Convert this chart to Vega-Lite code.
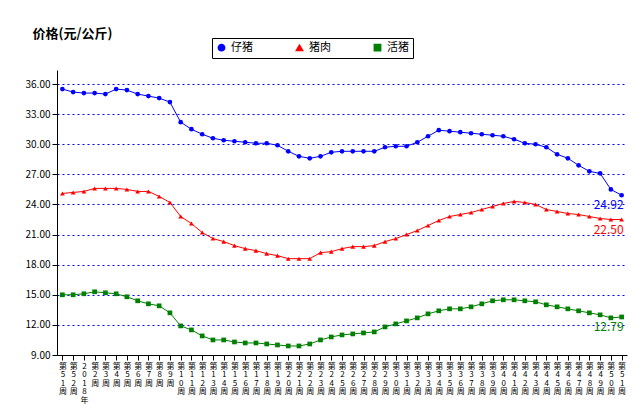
{
  "$schema": "https://vega.github.io/schema/vega-lite/v6.json",
  "autosize": {"type": "none"},
  "width": 570,
  "height": 285,
  "padding": {"left": 57, "top": 70, "right": 10, "bottom": 49},
  "background": "white",
  "title": {"text": "陕西省近一年生猪价格周度走势图", "fontSize": 15, "font": "Noto Sans CJK SC", "fontWeight": "bold", "offset": 38, "anchor": "middle", "dx": 20, "color": "black"},
  "config": {"font": "Noto Sans CJK SC", "view": {"stroke": null}},
  "datasets": {
    "prices": [
      {"w":"第51周","仔猪":35.5,"猪肉":25.1,"活猪":15.0},
      {"w":"第52周","仔猪":35.2,"猪肉":25.2,"活猪":15.0},
      {"w":"2018年","仔猪":35.1,"猪肉":25.3,"活猪":15.1},
      {"w":"第2周","仔猪":35.1,"猪肉":25.6,"活猪":15.3},
      {"w":"第3周","仔猪":35.0,"猪肉":25.6,"活猪":15.2},
      {"w":"第4周","仔猪":35.5,"猪肉":25.6,"活猪":15.1},
      {"w":"第5周","仔猪":35.4,"猪肉":25.5,"活猪":14.8},
      {"w":"第6周","仔猪":35.0,"猪肉":25.3,"活猪":14.4},
      {"w":"第7周","仔猪":34.8,"猪肉":25.3,"活猪":14.1},
      {"w":"第8周","仔猪":34.6,"猪肉":24.8,"活猪":13.9},
      {"w":"第9周","仔猪":34.2,"猪肉":24.2,"活猪":13.2},
      {"w":"第10周","仔猪":32.2,"猪肉":22.8,"活猪":11.9},
      {"w":"第11周","仔猪":31.5,"猪肉":22.1,"活猪":11.5},
      {"w":"第12周","仔猪":31.0,"猪肉":21.2,"活猪":10.9},
      {"w":"第13周","仔猪":30.6,"猪肉":20.6,"活猪":10.5},
      {"w":"第14周","仔猪":30.4,"猪肉":20.3,"活猪":10.5},
      {"w":"第15周","仔猪":30.3,"猪肉":19.9,"活猪":10.3},
      {"w":"第16周","仔猪":30.2,"猪肉":19.6,"活猪":10.2},
      {"w":"第17周","仔猪":30.1,"猪肉":19.4,"活猪":10.2},
      {"w":"第18周","仔猪":30.1,"猪肉":19.1,"活猪":10.1},
      {"w":"第19周","仔猪":29.9,"猪肉":18.9,"活猪":10.0},
      {"w":"第20周","仔猪":29.3,"猪肉":18.6,"活猪":9.9},
      {"w":"第21周","仔猪":28.8,"猪肉":18.6,"活猪":9.9},
      {"w":"第22周","仔猪":28.6,"猪肉":18.6,"活猪":10.1},
      {"w":"第23周","仔猪":28.8,"猪肉":19.2,"活猪":10.5},
      {"w":"第24周","仔猪":29.2,"猪肉":19.3,"活猪":10.8},
      {"w":"第25周","仔猪":29.3,"猪肉":19.6,"活猪":11.0},
      {"w":"第26周","仔猪":29.3,"猪肉":19.8,"活猪":11.1},
      {"w":"第27周","仔猪":29.3,"猪肉":19.8,"活猪":11.2},
      {"w":"第28周","仔猪":29.3,"猪肉":19.9,"活猪":11.3},
      {"w":"第29周","仔猪":29.7,"猪肉":20.3,"活猪":11.8},
      {"w":"第30周","仔猪":29.8,"猪肉":20.6,"活猪":12.1},
      {"w":"第31周","仔猪":29.8,"猪肉":21.0,"活猪":12.4},
      {"w":"第32周","仔猪":30.2,"猪肉":21.4,"活猪":12.7},
      {"w":"第33周","仔猪":30.8,"猪肉":21.9,"活猪":13.1},
      {"w":"第34周","仔猪":31.4,"猪肉":22.4,"活猪":13.4},
      {"w":"第35周","仔猪":31.3,"猪肉":22.8,"活猪":13.6},
      {"w":"第36周","仔猪":31.2,"猪肉":23.0,"活猪":13.6},
      {"w":"第37周","仔猪":31.1,"猪肉":23.2,"活猪":13.8},
      {"w":"第38周","仔猪":31.0,"猪肉":23.5,"活猪":14.1},
      {"w":"第39周","仔猪":30.9,"猪肉":23.8,"活猪":14.4},
      {"w":"第40周","仔猪":30.8,"猪肉":24.1,"活猪":14.5},
      {"w":"第41周","仔猪":30.5,"猪肉":24.3,"活猪":14.5},
      {"w":"第42周","仔猪":30.1,"猪肉":24.2,"活猪":14.4},
      {"w":"第43周","仔猪":30.0,"猪肉":24.0,"活猪":14.3},
      {"w":"第44周","仔猪":29.7,"猪肉":23.5,"活猪":14.0},
      {"w":"第45周","仔猪":29.0,"猪肉":23.3,"活猪":13.8},
      {"w":"第46周","仔猪":28.6,"猪肉":23.1,"活猪":13.6},
      {"w":"第47周","仔猪":27.9,"猪肉":23.0,"活猪":13.4},
      {"w":"第48周","仔猪":27.3,"猪肉":22.8,"活猪":13.2},
      {"w":"第49周","仔猪":27.1,"猪肉":22.6,"活猪":13.0},
      {"w":"第50周","仔猪":25.5,"猪肉":22.5,"活猪":12.7},
      {"w":"第51周 ","仔猪":24.92,"猪肉":22.50,"活猪":12.79}
    ]
  },
  "data": {"name": "prices"},
  "transform": [
    {"fold": ["仔猪", "猪肉", "活猪"], "as": ["series", "price"]}
  ],
  "encoding": {
    "x": {
      "field": "w", "type": "ordinal", "sort": null,
      "scale": {"paddingOuter": 0.4},
      "axis": {
        "title": null, "labelAngle": 0, "labelFontSize": 8, "labelLineHeight": 8.5,
        "labelExpr": "split(trim(datum.label), '')", "labelBaseline": "top", "labelColor": "black",
        "domainColor": "black", "tickColor": "black", "grid": false, "labelPadding": 2, "labelOverlap": false
      }
    },
    "y": {
      "field": "price", "type": "quantitative",
      "scale": {"domain": [9, 37.4], "nice": false, "zero": false},
      "axis": {
        "values": [9, 12, 15, 18, 21, 24, 27, 30, 33, 36], "format": ".2f",
        "labelFontSize": 10, "labelColor": "black", "domainColor": "black", "tickColor": "black",
        "gridColor": "#0000ff", "gridDash": [2, 3], "gridOpacity": 1,
        "title": "价格(元/公斤)", "titleAngle": 0, "titleX": -25, "titleY": -30,
        "titleAlign": "left", "titleFontSize": 13, "titleFontWeight": "bold"
      }
    },
    "color": {
      "field": "series", "type": "nominal",
      "scale": {"domain": ["仔猪", "猪肉", "活猪"], "range": ["#0000ff", "#ff0000", "#008000"]},
      "legend": {
        "orient": "none", "legendX": 155, "legendY": -32, "direction": "horizontal",
        "title": null, "strokeColor": "black", "padding": 4, "labelFontSize": 11,
        "columnPadding": 40, "symbolSize": 40, "labelLimit": 80
      }
    }
  },
  "layer": [
    {"mark": {"type": "line", "strokeWidth": 1}},
    {
      "mark": {"type": "point", "filled": true, "size": 22, "opacity": 1},
      "encoding": {
        "shape": {"field": "series", "type": "nominal",
          "scale": {"domain": ["仔猪", "猪肉", "活猪"], "range": ["circle", "triangle-up", "square"]},
          "legend": null}
      }
    },
    {
      "transform": [{"filter": "datum.w == '第51周 '"}],
      "mark": {"type": "text", "align": "right", "dy": 10, "dx": 2, "fontSize": 12},
      "encoding": {"text": {"field": "price", "type": "quantitative", "format": ".2f"}}
    }
  ]
}
